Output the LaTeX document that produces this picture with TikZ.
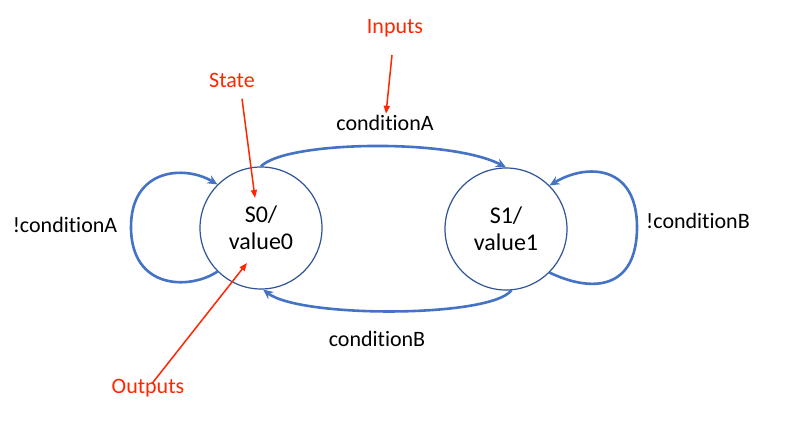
\documentclass[tikz,border=0pt]{standalone}
\usepackage{fontspec}
\setmainfont{Carlito}[RawFeature={-liga;-clig;-calt}]
\usetikzlibrary{arrows.meta}
\definecolor{transblue}{HTML}{4472C4}
\definecolor{stateblue}{HTML}{2F5597}
\definecolor{notered}{HTML}{FF2600}

\begin{document}
\begin{tikzpicture}[x=1pt, y=-1pt,
		statenode/.style={draw=stateblue, line width=1.2pt, circle, minimum size=122pt, inner sep=0pt, align=center, font=\fontsize{24}{27}\selectfont},
		trans/.style={draw=transblue, line width=2.6pt, -{Stealth[length=10pt, width=9pt]}},
		cond/.style={font=\fontsize{22}{26}\selectfont},
		note/.style={text=notered, font=\fontsize{22}{26}\selectfont},
		pointer/.style={draw=notered, line width=1.5pt, -{Triangle[length=8pt, width=6pt]}}]
			%%%%% START %%%%%
			
			\useasboundingbox[fill=white] (0, 0) rectangle (787, 423);
			
			\node[statenode] (s0) at (261, 228) {S0/\\value0};
			\node[statenode] (s1) at (506, 229) {S1/\\value1};
			
			\node[cond] (conda) at (385, 123) {conditionA};
			\node[cond] (condb) at (377, 339) {conditionB};
			\node[cond] (notconda) at (65, 225) {!conditionA};
			\node[cond] (notcondb) at (698, 221) {!conditionB};
			
			\draw[trans] (s0.north) .. controls (285, 141) and (450, 138) .. (s1.north);
			\draw[trans] (s1.-85) .. controls (490, 318) and (300, 318) .. (s0.-88);
			\draw[trans] (s0.225) .. controls (190, 290) and (131, 290) .. (131, 227)
				.. controls (131, 168) and (185, 165) .. (s0.135);
			\draw[trans] (s1.-45) .. controls (592, 293) and (637, 290) .. (637, 227)
				.. controls (637, 165) and (587, 163) .. (s1.45);
			
			\node[note] (inputs) at (395, 28) {Inputs};
			\node[note] (state) at (232, 80) {State};
			\node[note] (outputs) at (148, 388) {Outputs};
			
			\coordinate (statetip) at (255, 198);
			\coordinate (outtip) at (247, 263);
			
			\draw[pointer] (392, 55) -- ([xshift=1pt, yshift=-2pt]conda.north);
			\draw[pointer] ([xshift=10pt, yshift=-8pt]state.south) -- (statetip);
			\draw[pointer] ([xshift=4pt, yshift=-8pt]outputs.north) -- (outtip);
			
			%%%%% END %%%%%
		\end{tikzpicture}
\end{document}
